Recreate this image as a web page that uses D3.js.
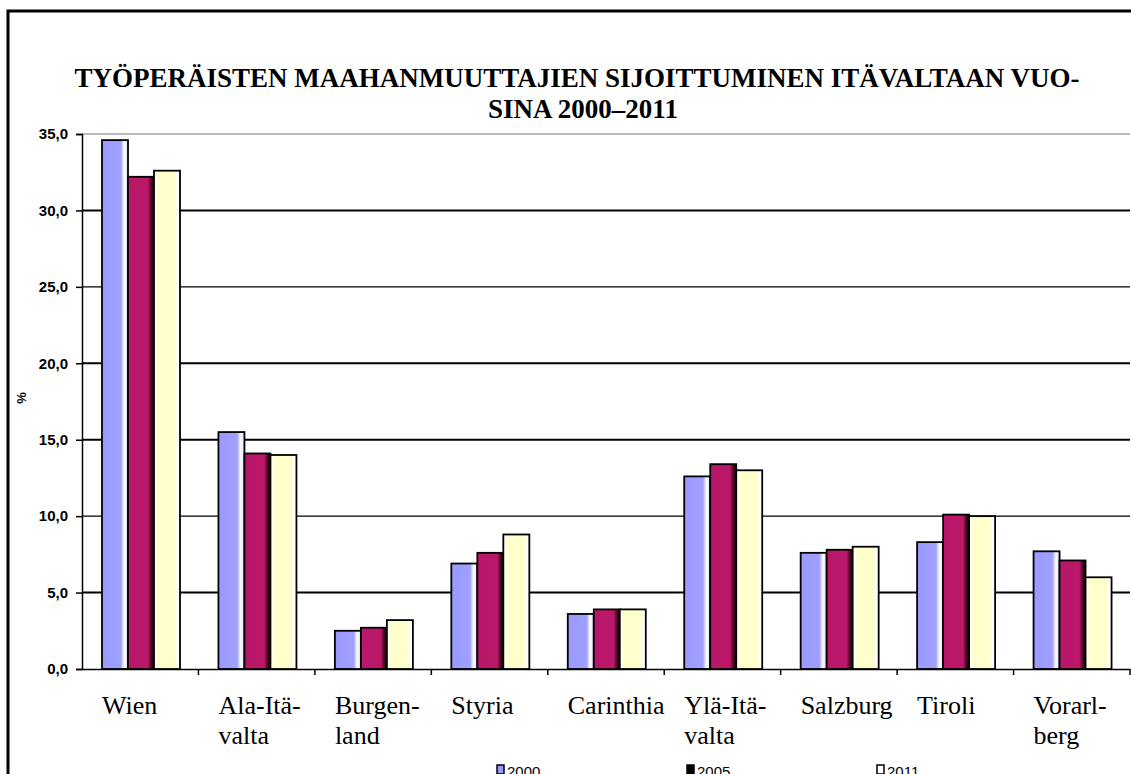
<!DOCTYPE html>
<html lang="fi">
<head>
<meta charset="UTF-8"/>
<title>Työperäisten maahanmuuttajien sijoittuminen</title>
<script src="https://d3js.org/d3.v7.min.js"></script>
<style>
  body { margin: 0; background: #fff; }
  svg { display: block; }
</style>
</head>
<body>
<script>
    // Data
    var regions = ["Wien", "Ala-Itä-|valta", "Burgen-|land", "Styria", "Carinthia",
                   "Ylä-Itä-|valta", "Salzburg", "Tiroli", "Vorarl-|berg"];
    var years = ["2000", "2005", "2011"];
    var v2000 = [34.6, 15.5, 2.5, 6.9, 3.6, 12.6, 7.6, 8.3, 7.7];
    var v2005 = [32.2, 14.1, 2.7, 7.6, 3.9, 13.4, 7.8, 10.1, 7.1];
    var v2011 = [32.6, 14.0, 3.2, 8.8, 3.9, 13.0, 8.0, 10.0, 6.0];
    var yTicks = [0, 5, 10, 15, 20, 25, 30, 35];

    var w = 1131, h = 774;
    // plot area
    var pLeft = 82, pRight = 1130, pTop = 134, pBottom = 669;

    var series = [v2000, v2005, v2011];

    var svg = d3.select("body").append("svg")
        .attr("width", w).attr("height", h);

    // gradients to imitate the shaded bars
    var defs = svg.append("defs");
    function grad(id, stops) {
        var g = defs.append("linearGradient").attr("id", id)
            .attr("x1", "0%").attr("x2", "100%").attr("y1", "0%").attr("y2", "0%");
        stops.forEach(function(s) {
            g.append("stop").attr("offset", s[0]).attr("stop-color", s[1]);
        });
    }
    grad("g2000", [["0%", "#9a9aff"], ["72%", "#a0a0ff"], ["86%", "#ffffff"], ["100%", "#d8d8ff"]]);
    grad("g2005", [["0%", "#b8176a"], ["76%", "#bb1868"], ["88%", "#5a0828"], ["100%", "#000000"]]);
    grad("g2011", [["0%", "#ffffff"], ["18%", "#ffffcc"], ["78%", "#ffffcc"], ["92%", "#ffffff"], ["100%", "#ffffff"]]);
    var fills = ["url(#g2000)", "url(#g2005)", "url(#g2011)"];
    var legendFills = ["#9999ff", "#000000", "#ffffff"];

    // frame
    svg.append("path")
        .attr("d", "M8,774 L8,11 L1131,11")
        .attr("fill", "none").attr("stroke", "#000").attr("stroke-width", 3);

    // title
    var title = svg.append("text")
        .attr("text-anchor", "middle")
        .attr("font-family", "'Liberation Serif', 'Times New Roman', serif")
        .attr("font-weight", "bold")
        .attr("font-size", "27px");
    title.append("tspan").attr("x", 577).attr("y", 87)
        .text("TYÖPERÄISTEN MAAHANMUUTTAJIEN SIJOITTUMINEN ITÄVALTAAN VUO-");
    title.append("tspan").attr("x", 583).attr("y", 118)
        .text("SINA 2000–2011");

    // scales
    var x = d3.scaleBand().domain(regions).range([pLeft, pRight]);
    var xi = d3.scaleBand().domain(years).range([20, 98]);
    var y = d3.scaleLinear().domain([0, 35]).range([pBottom, pTop]);

    // grid lines
    svg.selectAll("line.grid")
        .data(yTicks.filter(function(d) { return d > 0; }))
        .enter().append("line")
        .attr("class", "grid")
        .attr("x1", pLeft).attr("x2", pRight)
        .attr("y1", function(d) { return y(d); })
        .attr("y2", function(d) { return y(d); })
        .attr("stroke", function(d) { return d === 35 ? "#777" : "#000"; })
        .attr("stroke-width", function(d) { return d === 35 ? 1.2 : (d === 25 || d === 10 ? 1.2 : 2); });

    // y axis
    var yAxis = d3.axisLeft(y).tickValues(yTicks).tickSize(6)
        .tickFormat(function(d) { return d3.format(".1f")(d).replace(".", ","); });
    var gy = svg.append("g").attr("transform", "translate(" + pLeft + ",0)").call(yAxis);
    gy.select(".domain").attr("stroke-width", 1.5);
    gy.selectAll(".tick line").attr("stroke-width", 1.5);
    gy.selectAll(".tick text")
        .attr("x", -14)
        .attr("font-family", "'Liberation Sans', Arial, sans-serif")
        .attr("font-weight", "bold")
        .attr("font-size", "15px").attr("fill", "#000");

    // x axis
    var xAxis = d3.axisBottom(x).tickSize(0).tickFormat("");
    var gx = svg.append("g").attr("transform", "translate(0," + pBottom + ")").call(xAxis);
    gx.select(".domain").attr("stroke-width", 1.5);
    gx.selectAll("line.sep")
        .data(regions)
        .enter().append("line")
        .attr("class", "sep")
        .attr("x1", function(d) { return x(d) + x.bandwidth(); })
        .attr("x2", function(d) { return x(d) + x.bandwidth(); })
        .attr("y1", 0).attr("y2", 6)
        .attr("stroke", "#000").attr("stroke-width", 1.5);

    // bars
    series.forEach(function(vals, s) {
        svg.selectAll("rect.s" + s)
            .data(vals)
            .enter().append("rect")
            .attr("class", "s" + s)
            .attr("x", function(d, i) { return x(regions[i]) + xi(years[s]); })
            .attr("y", function(d) { return y(d); })
            .attr("width", xi.bandwidth())
            .attr("height", function(d) { return pBottom - y(d); })
            .attr("fill", fills[s])
            .attr("stroke", "#000").attr("stroke-width", 1.8);
    });

    // category labels
    var lab = svg.selectAll("text.cat")
        .data(regions)
        .enter().append("text")
        .attr("class", "cat")
        .attr("font-family", "'Liberation Serif', 'Times New Roman', serif")
        .attr("font-size", "26px").attr("fill", "#000");
    lab.each(function(d) {
        var t = d3.select(this);
        d.split("|").forEach(function(part, k) {
            t.append("tspan")
                .attr("x", x(d) + 20)
                .attr("y", 714 + k * 30)
                .text(part);
        });
    });

    // y label
    svg.append("text")
        .attr("transform", "translate(26,398) rotate(-90)")
        .attr("text-anchor", "middle")
        .attr("font-family", "'Liberation Sans', Arial, sans-serif")
        .attr("font-weight", "bold")
        .attr("font-size", "13px")
        .text("%");

    // legend
    var legX = [497, 687, 877];
    var leg = svg.selectAll("g.leg")
        .data(years)
        .enter().append("g")
        .attr("class", "leg")
        .attr("transform", function(d, i) { return "translate(" + legX[i] + ",765)"; });
    leg.append("rect")
        .attr("width", 7).attr("height", 9)
        .attr("fill", function(d, i) { return legendFills[i]; })
        .attr("stroke", "#000").attr("stroke-width", 1.5);
    leg.append("text")
        .attr("x", 10).attr("y", 12)
        .attr("font-family", "'Liberation Sans', Arial, sans-serif")
        .attr("font-size", "15px")
        .text(function(d) { return d; });
</script>
</body>
</html>
